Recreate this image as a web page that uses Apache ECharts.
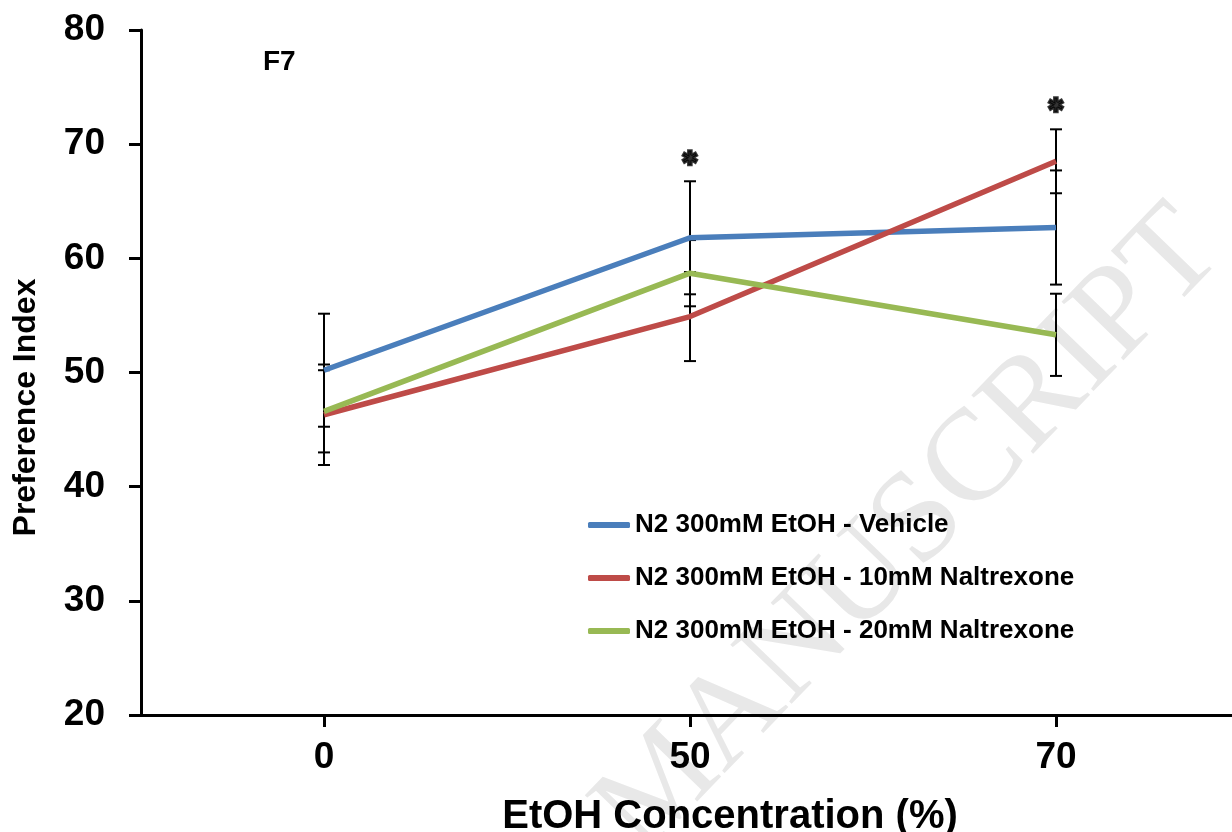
<!DOCTYPE html>
<html>
<head>
<meta charset="utf-8">
<script src="https://cdn.jsdelivr.net/npm/echarts@6/dist/echarts.min.js"></script>
<style>
  html, body { margin: 0; padding: 0; background: #fff; }
  #chart { width: 1232px; height: 832px; }
</style>
</head>
<body>
<div id="chart"></div>
<script>
// data
var categories = ['0', '50', '70']
var seriesNames = [
  'N2 300mM EtOH - Vehicle',
  'N2 300mM EtOH - 10mM Naltrexone',
  'N2 300mM EtOH - 20mM Naltrexone'
]
var vehicle = [50.2, 61.8, 62.7]
var vehicleErr = [4.95, 4.95, 5.0]
var nal10 = [46.3, 54.9, 68.5]
var nal10Err = [4.4, 3.9, 2.8]
var nal20 = [46.6, 58.7, 53.3]
var nal20Err = [3.6, 2.9, 3.6]
var starCats = ['50', '70']
var starY = [68.6, 73.3]
var yTicks = [20, 30, 40, 50, 60, 70, 80]

var colors = ['#4a7ebb', '#be4b48', '#98b954']
var font = '"Liberation Sans", Arial, sans-serif'

var means = [vehicle, nal10, nal20]
var errs = [vehicleErr, nal10Err, nal20Err]

// rows for the error bars: [category index, low, high]
var errRows = []
means.forEach(function (m, s) {
  m.forEach(function (v, i) {
    errRows.push([i, v - errs[s][i], v + errs[s][i]])
  })
})

var myChart = echarts.init(document.getElementById('chart'))

var lineSeries = seriesNames.map(function (name, s) {
  return {
    name: name,
    type: 'line',
    data: means[s],
    symbol: 'none',
    z: 5,
    lineStyle: { color: colors[s], width: 5.5 },
    itemStyle: { color: colors[s] }
  }
})

var option = {
  animation: false,
  backgroundColor: '#fff',
  title: {
    text: 'F7',
    left: 263,
    top: 48,
    padding: 0,
    textStyle: { fontFamily: font, fontWeight: 'bold', fontSize: 28, color: '#000' }
  },
  graphic: [
    {
      type: 'text',
      z: 0,
      x: 910,
      y: 532,
      rotation: 46 * Math.PI / 180,
      silent: true,
      style: {
        text: 'MANUSCRIPT',
        fontFamily: '"Liberation Serif", "Times New Roman", serif',
        fontSize: 130,
        fill: '#e8e8e8',
        align: 'center',
        verticalAlign: 'middle'
      }
    }
  ],
  legend: {
    orient: 'vertical',
    left: 588,
    top: 512,
    padding: 0,
    itemGap: 27,
    itemWidth: 42,
    itemHeight: 6,
    icon: 'roundRect',
    data: seriesNames,
    textStyle: {
      fontFamily: font,
      fontWeight: 'bold',
      fontSize: 26,
      lineHeight: 26,
      color: '#000'
    }
  },
  grid: {
    left: 141,
    right: -7,
    top: 30,
    bottom: 117,
    containLabel: false,
    outerBoundsMode: 'none'
  },
  xAxis: {
    type: 'category',
    data: categories,
    boundaryGap: true,
    name: 'EtOH Concentration (%)',
    nameLocation: 'middle',
    nameGap: 82,
    nameTextStyle: {
      fontFamily: font,
      fontWeight: 'bold',
      fontSize: 40,
      color: '#000',
      padding: [0, 0, 0, 80]
    },
    axisLine: { show: true, lineStyle: { color: '#000', width: 3 } },
    axisTick: { show: true, alignWithLabel: true, length: 12, lineStyle: { color: '#000', width: 3 } },
    axisLabel: {
      margin: 24,
      fontFamily: font,
      fontWeight: 'bold',
      fontSize: 37,
      color: '#000'
    },
    splitLine: { show: false }
  },
  yAxis: {
    type: 'value',
    min: yTicks[0],
    max: yTicks[yTicks.length - 1],
    interval: 10,
    name: 'Preference Index',
    nameLocation: 'middle',
    nameGap: 99,
    nameTextStyle: {
      fontFamily: font,
      fontWeight: 'bold',
      fontSize: 32,
      color: '#000',
      padding: [0, 70, 0, 0]
    },
    axisLine: { show: true, lineStyle: { color: '#000', width: 3 } },
    axisTick: { show: true, length: 12, lineStyle: { color: '#000', width: 3 } },
    axisLabel: {
      margin: 36,
      fontFamily: font,
      fontWeight: 'bold',
      fontSize: 37,
      color: '#000'
    },
    splitLine: { show: false }
  },
  series: [
    {
      name: 'error',
      type: 'custom',
      z: 3,
      silent: true,
      data: errRows,
      encode: { x: 0, y: [1, 2] },
      renderItem: function (params, api) {
        var x = api.value(0)
        var lo = api.coord([x, api.value(1)])
        var hi = api.coord([x, api.value(2)])
        var cap = 6
        var st = { stroke: '#000', lineWidth: 2 }
        return {
          type: 'group',
          children: [
            { type: 'line', shape: { x1: lo[0], y1: lo[1], x2: hi[0], y2: hi[1] }, style: st },
            { type: 'line', shape: { x1: lo[0] - cap, y1: lo[1], x2: lo[0] + cap, y2: lo[1] }, style: st },
            { type: 'line', shape: { x1: hi[0] - cap, y1: hi[1], x2: hi[0] + cap, y2: hi[1] }, style: st }
          ]
        }
      }
    }
  ].concat(lineSeries).concat([
    {
      name: 'stars',
      type: 'scatter',
      symbolSize: 0,
      silent: true,
      z: 6,
      data: starCats.map(function (c, i) { return [c, starY[i]] }),
      label: {
        show: true,
        position: 'inside',
        formatter: '\u2731',
        fontFamily: '"DejaVu Sans", sans-serif',
        fontSize: 20,
        color: '#000',
        textBorderColor: '#000',
        textBorderWidth: 2.5
      }
    }
  ])
}

option && myChart.setOption(option)
</script>
</body>
</html>
